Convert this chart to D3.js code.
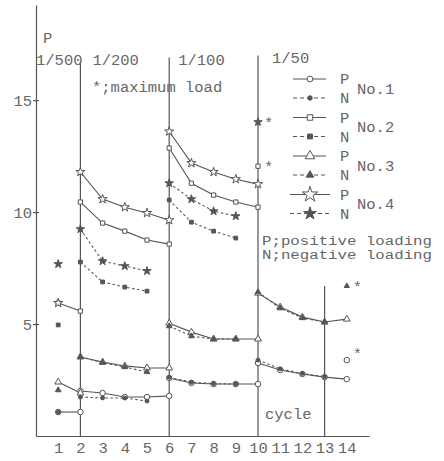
<!DOCTYPE html>
<html>
<head>
<meta charset="utf-8">
<script src="https://cdn.jsdelivr.net/npm/d3@7"></script>
<style>
  body { margin: 0; background: #fff; }
  text { font-family: "Liberation Mono", "DejaVu Sans Mono", monospace; fill: #666; font-size: 15.5px; }
</style>
</head>
<body>
<svg width="444" height="461"></svg>
<script>
// cycles of each amplitude block (first cycle sits on the block line)
const blockCycles = [[1, 2], [2, 3, 4, 5, 6], [6, 7, 8, 9, 10], [10, 11, 12, 13, 14]];
const amplitudes = ["1/500", "1/200", "1/100", "1/50"];
const blockLines = [2, 6, 10, 13];
const blockLineTops = [16.7, 16.9, 17.0, 6.7];
const xTicks = d3.range(1, 15);
const yTicks = [5, 10, 15];

// load P for each block, P = positive, N = negative loading
const p1 = [[1.07, 1.07], [2.01, 1.92, 1.74, 1.74, 1.79], [2.59, 2.37, 2.32, 2.32, 2.32], [3.26, 2.95, 2.77, 2.63, 2.54]];
const n1 = [[1.07], [1.74, 1.70, 1.70, 1.56], [2.62, 2.40, 2.34, 2.32], [3.39, 3.00, 2.79, 2.65]];
const p2 = [[5.94, 5.58], [10.45, 9.51, 9.15, 8.75, 8.57], [12.86, 11.29, 10.76, 10.45, 10.22], []];
const n2 = [[4.96], [7.77, 6.88, 6.65, 6.47], [10.54, 9.55, 9.15, 8.84], []];
const p3 = [[2.41, 1.92], [3.53, 3.30, 3.13, 3.04, 3.04], [5.04, 4.64, 4.33, 4.33, 4.33], [6.38, 5.76, 5.31, 5.09, 5.22]];
const n3 = [[2.05], [3.53, 3.28, 3.08, 2.86], [4.91, 4.46, 4.33, 4.33], [6.43, 5.71, 5.27, 5.09]];
const p4 = [[5.94], [11.79, 10.58, 10.22, 9.96, 9.64], [13.60, 12.19, 11.79, 11.47, 11.25], []];
const n4 = [[7.68], [9.24, 7.81, 7.59, 7.37], [11.29, 10.58, 10.04, 9.82], []];

// maximum loads
const maxSpecimen = [4, 2, 3, 1];
const maxSide = ["N", "P", "N", "P"];
const maxCycle = [10, 10, 14, 14];
const maxValue = [14.02, 12.05, 6.70, 3.39];

const series = [
    {no: 1, side: "P", vals: p1}, {no: 1, side: "N", vals: n1},
    {no: 2, side: "P", vals: p2}, {no: 2, side: "N", vals: n2},
    {no: 3, side: "P", vals: p3}, {no: 3, side: "N", vals: n3},
    {no: 4, side: "P", vals: p4}, {no: 4, side: "N", vals: n4}
];

const ink = "#555";
const shapes = {1: d3.symbolCircle, 2: d3.symbolSquare, 3: d3.symbolTriangle, 4: d3.symbolStar};
const sizes = {P: {1: 24, 2: 18, 3: 20, 4: 26}, N: {1: 12, 2: 14, 3: 14, 4: 22}};
const legendSizes = {P: {1: 26, 2: 30, 3: 40, 4: 75}, N: {1: 16, 2: 24, 3: 24, 4: 50}};

const svg = d3.select("svg");
const x = d3.scaleLinear().domain([0, 15]).range([36, 369]);
const y = d3.scaleLinear().domain([0, 19.25]).range([436, 5]);

// axes
const xAxis = svg.append("g").attr("transform", `translate(0,${y(0)})`)
    .call(d3.axisBottom(x).tickValues(xTicks).tickSize(0).tickSizeOuter(0).tickPadding(6));
const yAxis = svg.append("g").attr("transform", `translate(${x(0)},0)`)
    .call(d3.axisLeft(y).tickValues(yTicks).tickSize(3).tickSizeOuter(0).tickPadding(1));
yAxis.selectAll(".tick line").attr("x2", -3).attr("x1", 3);
[xAxis, yAxis].forEach(g => {
    g.attr("font-family", null).attr("font-size", null);
    g.selectAll("path, line").attr("stroke", ink).attr("stroke-width", 1.2);
});

// amplitude block lines and labels
svg.append("g").selectAll("line").data(blockLines).join("line")
    .attr("x1", d => x(d)).attr("x2", d => x(d))
    .attr("y1", y(0)).attr("y2", (d, i) => y(blockLineTops[i]))
    .attr("stroke", ink).attr("stroke-width", 1.2);
const ampDx = [0, 12, 9, 14];
const ampStart = [0, 2, 6, 10];
svg.append("g").selectAll("text").data(amplitudes).join("text")
    .attr("x", (d, i) => x(ampStart[i]) + ampDx[i]).attr("y", (d, i) => i === 3 ? 63 : 65)
    .text(d => d);

// data lines
const line = d3.line().x(d => x(d[0])).y(d => y(d[1]));
const plot = svg.append("g");
series.forEach(s => {
    s.vals.forEach((vals, b) => {
        const pts = vals.map((v, i) => [blockCycles[b][i], v]);
        if (pts.length > 1) {
            plot.append("path").datum(pts).attr("d", line)
                .attr("fill", "none").attr("stroke", ink).attr("stroke-width", 1.1)
                .attr("stroke-dasharray", s.side === "N" ? "2.5,2.5" : null);
        }
    });
});
series.forEach(s => {
    const pts = s.vals.flatMap((vals, b) => vals.map((v, i) => [blockCycles[b][i], v]));
    plot.append("g").selectAll("path").data(pts).join("path")
        .attr("transform", d => `translate(${x(d[0])},${y(d[1])})`)
        .attr("d", d3.symbol(shapes[s.no], sizes[s.side][s.no]))
        .attr("fill", s.side === "P" ? "#fff" : ink)
        .attr("stroke", ink).attr("stroke-width", 1);
});

// maximum load points with asterisk
const maxG = svg.append("g");
maxValue.forEach((v, i) => {
    const side = maxSide[i], no = maxSpecimen[i];
    maxG.append("path")
        .attr("transform", `translate(${x(maxCycle[i])},${y(v)})`)
        .attr("d", d3.symbol(shapes[no], no === 3 ? 12 : sizes[side][no]))
        .attr("fill", side === "P" ? "#fff" : ink)
        .attr("stroke", ink).attr("stroke-width", 1);
    maxG.append("text").attr("x", x(maxCycle[i]) + 6).attr("y", y(v) + (no === 1 ? -1 : 6)).text("*");
});

// legend
const legend = svg.append("g");
d3.range(1, 5).forEach(no => {
    const py = 79 + 38.5 * (no - 1), ny = py + 19;
    [["P", py], ["N", ny]].forEach(([side, ly]) => {
        legend.append("line").attr("x1", no === 4 ? 290 : 293).attr("x2", no === 4 ? 330 : 326)
            .attr("y1", ly).attr("y2", ly).attr("stroke", ink).attr("stroke-width", 1.1)
            .attr("stroke-dasharray", side === "N" ? "4,3" : null);
        legend.append("path").attr("transform", `translate(310,${ly})`)
            .attr("d", d3.symbol(shapes[no], legendSizes[side][no]))
            .attr("fill", side === "P" ? "#fff" : ink).attr("stroke", ink);
        legend.append("text").attr("x", 340).attr("y", ly + 5).text(side);
    });
    legend.append("text").attr("x", 357).attr("y", (py + ny) / 2 + 5).text("No." + no);
});

// notes
svg.append("text").attr("x", 43).attr("y", 43).text("P");
svg.append("text").attr("x", 92).attr("y", 92).text("*;maximum load");
svg.append("g").selectAll("text").data(["P;positive loading", "N;negative loading"]).join("text")
    .attr("x", 262).attr("y", (d, i) => 245 + i * 14)
    .attr("textLength", 170).attr("lengthAdjust", "spacingAndGlyphs")
    .style("font-size", "12.5px").text(d => d);
svg.append("text").attr("x", 265).attr("y", 419).text("cycle");
</script>
</body>
</html>
